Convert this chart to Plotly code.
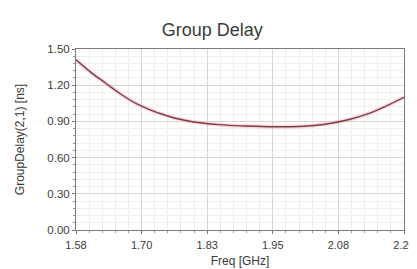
import plotly.graph_objects as go

freq = [1.58, 1.61, 1.635, 1.665, 1.695, 1.725, 1.75, 1.77, 1.80, 1.85, 1.90,
        1.96, 2.00, 2.03, 2.065, 2.10, 2.13, 2.165, 2.20]
delay = [1.41, 1.30, 1.22, 1.125, 1.045, 0.988, 0.950, 0.924, 0.897, 0.873, 0.862,
         0.856, 0.858, 0.866, 0.887, 0.92, 0.96, 1.025, 1.10]

x_tickvals = [1.58, 1.704, 1.828, 1.952, 2.076, 2.20]
x_ticktext = ["1.58", "1.70", "1.83", "1.95", "2.08", "2.20"]
y_tickvals = [0.0, 0.3, 0.6, 0.9, 1.2, 1.5]

fig = go.Figure()
fig.add_trace(go.Scatter(x=freq, y=delay, mode="lines",
                         line=dict(color="rgba(245,160,172,0.4)", width=4, shape="spline", smoothing=1.2),
                         hoverinfo="skip", showlegend=False))
fig.add_trace(go.Scatter(x=freq, y=delay, mode="lines",
                         line=dict(color="#7a4048", width=1.4, shape="spline", smoothing=1.2),
                         showlegend=False))

fig.update_layout(
    width=417, height=269,
    margin=dict(l=68, r=10, t=41, b=47),
    paper_bgcolor="white", plot_bgcolor="white",
    font=dict(family="Liberation Sans, Arial, sans-serif", color="#3a3a3a", size=11),
    title=dict(text="Group Delay", x=0.49, xanchor="center", y=0.918, yanchor="middle",
               font=dict(size=18, color="#3a3a3a")),
)
fig.update_xaxes(
    range=[1.58, 2.20], tickvals=x_tickvals, ticktext=x_ticktext,
    ticklabeloverflow="allow", ticklabelstandoff=2,
    tickfont=dict(size=11),
    showgrid=True, gridcolor="#d6d6d6", gridwidth=1,
    showline=True, linecolor="#7a7a7a", linewidth=1, mirror=True,
    ticks="outside", ticklen=3, tickcolor="#7a7a7a",
    minor=dict(tick0=1.58, dtick=0.0248, showgrid=True, gridcolor="#efefef",
               ticks="outside", ticklen=2, tickcolor="#9a9a9a"),
    title=dict(text="Freq [GHz]", font=dict(size=12), standoff=6),
    zeroline=False,
)
fig.update_yaxes(
    range=[0, 1.5], tickvals=y_tickvals, tickformat=".2f",
    tickfont=dict(size=11.5),
    showgrid=True, gridcolor="#d6d6d6", gridwidth=1,
    showline=True, linecolor="#7a7a7a", linewidth=1, mirror=True,
    ticks="outside", ticklen=3, tickcolor="#7a7a7a",
    minor=dict(tick0=0, dtick=0.06, showgrid=True, gridcolor="#efefef",
               ticks="outside", ticklen=2, tickcolor="#9a9a9a"),
    title=dict(text="GroupDelay(2,1) [ns]", font=dict(size=12), standoff=20),
    zeroline=False,
)

fig.write_html("out.html")
